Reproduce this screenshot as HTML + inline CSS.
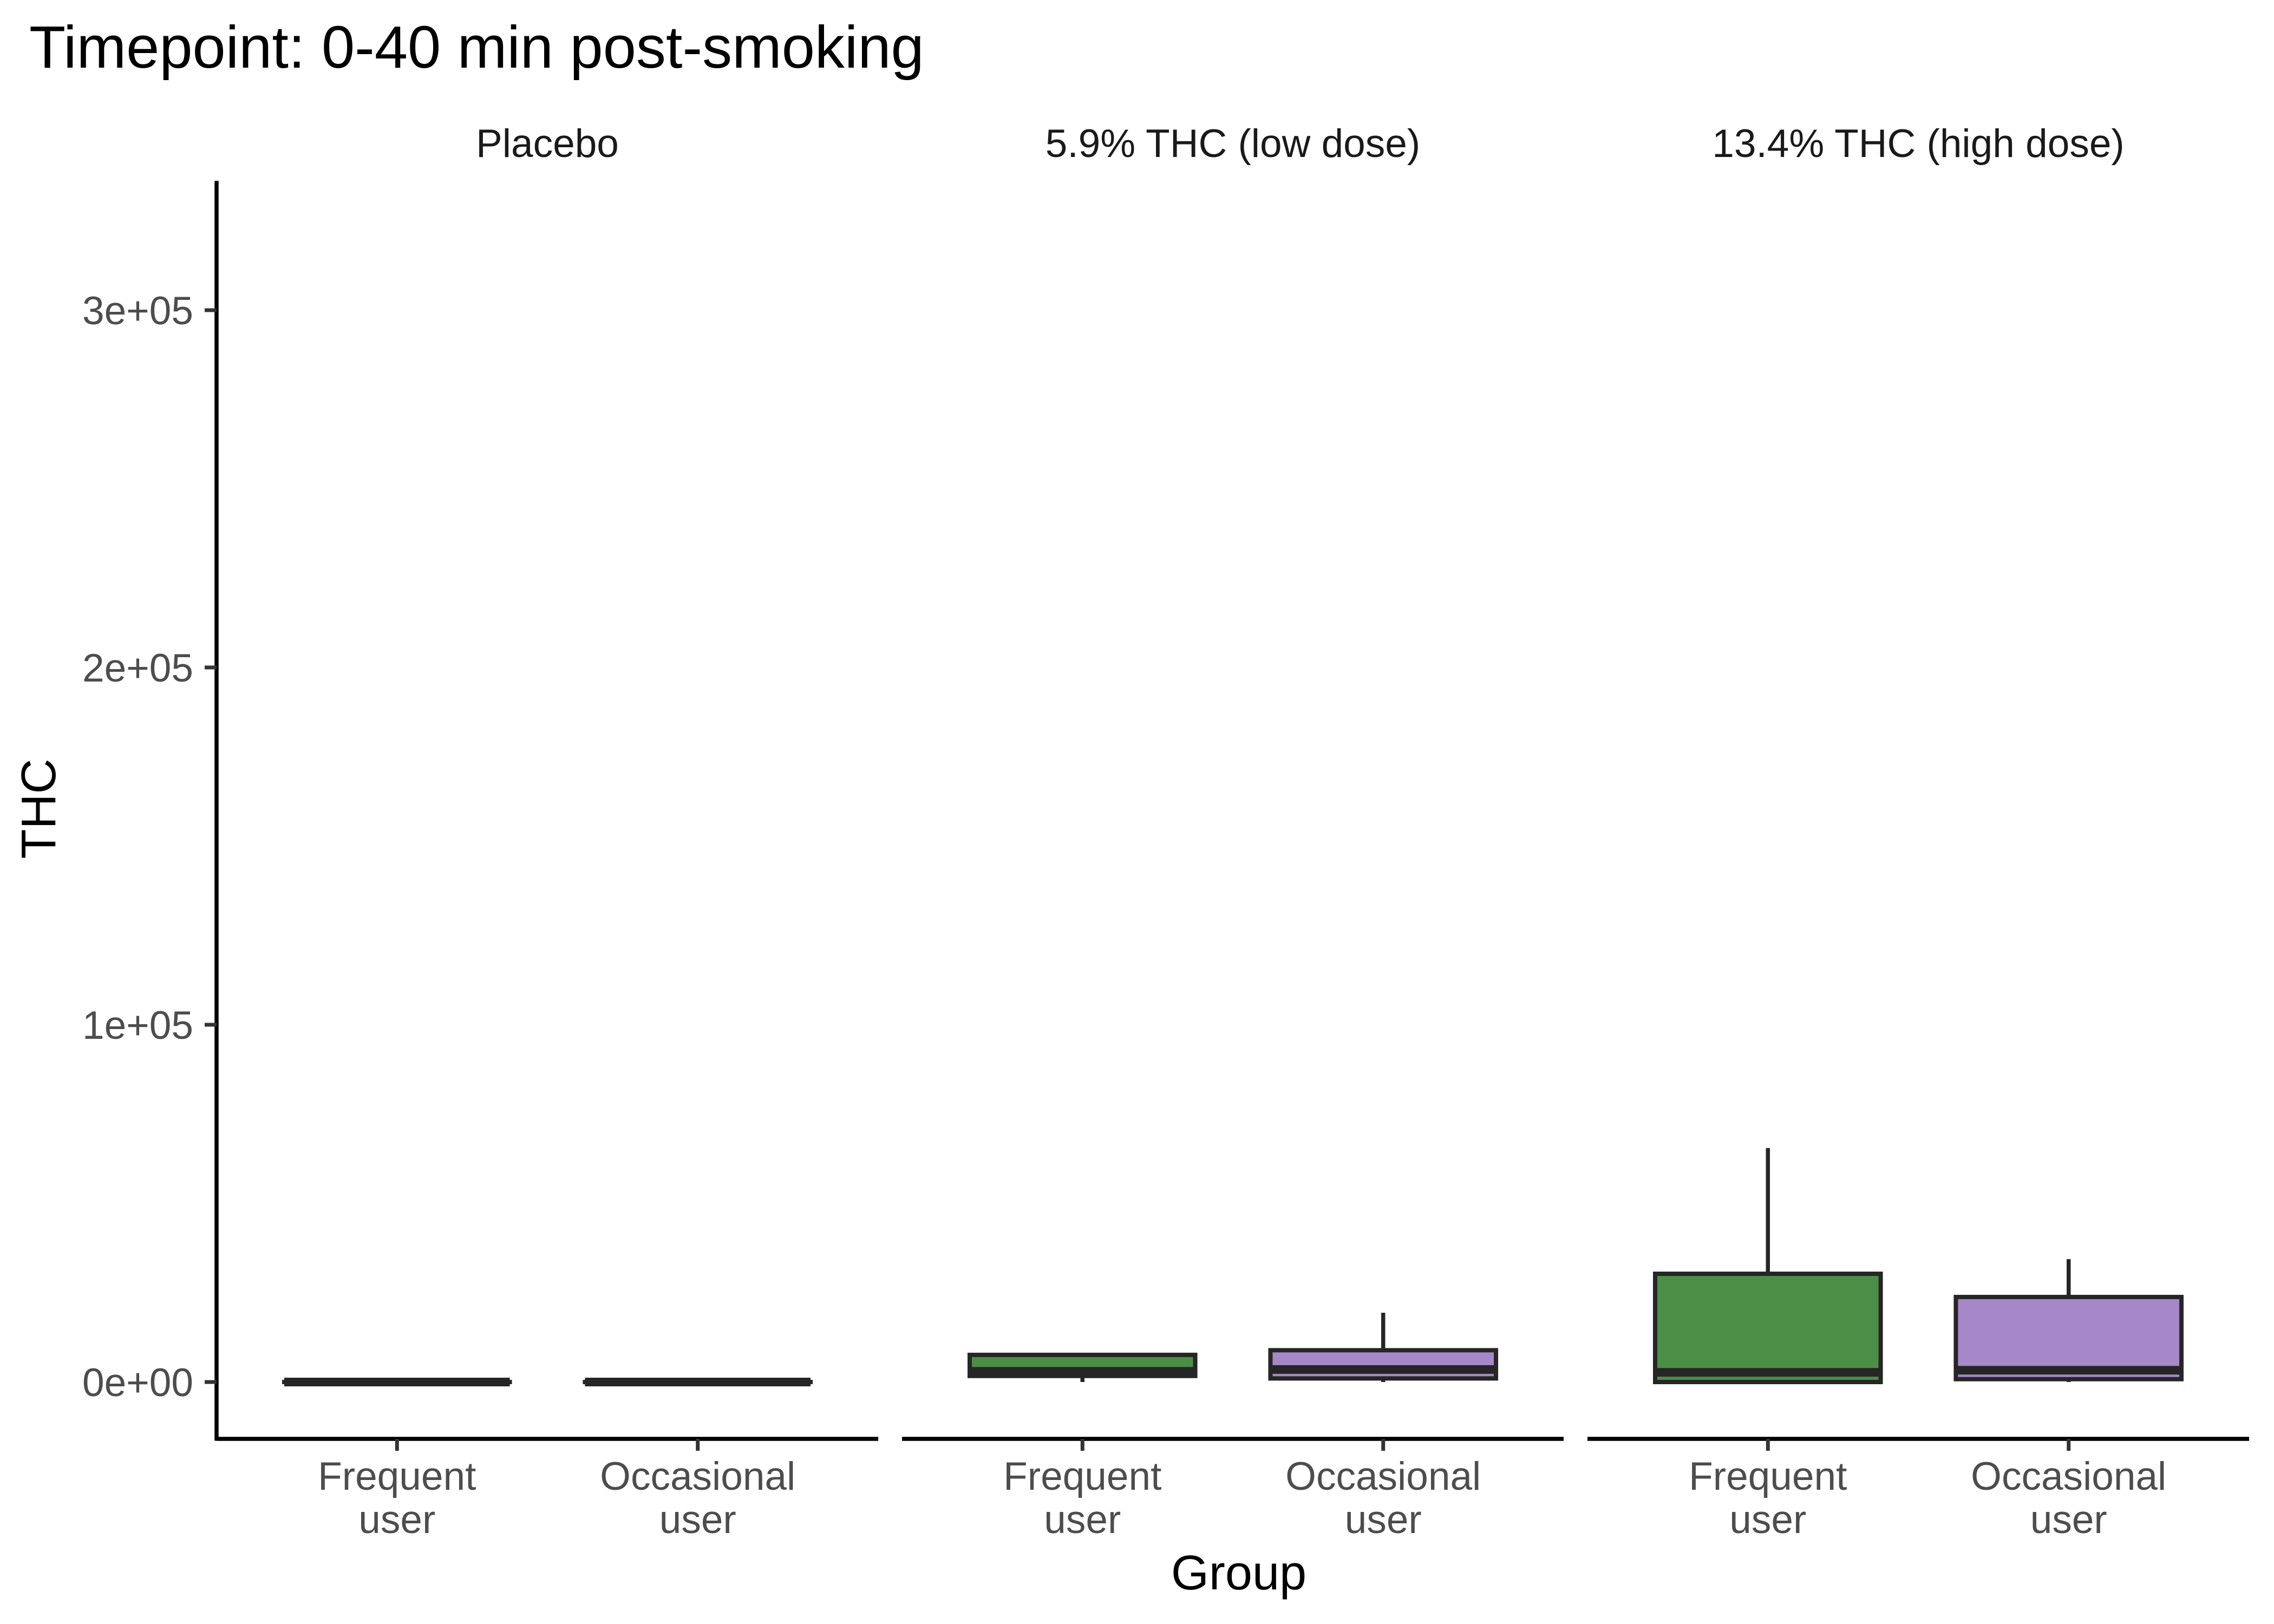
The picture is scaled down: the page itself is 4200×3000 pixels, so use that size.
<!DOCTYPE html>
<html><head><meta charset="utf-8"><style>
html,body{margin:0;padding:0;background:#fff;}
svg{display:block;font-family:"Liberation Sans",Arial,sans-serif;}
</style></head><body>
<svg id="chart" width="4200" height="3000" viewBox="0 0 4200 3000" xmlns="http://www.w3.org/2000/svg">
<rect width="4200" height="3000" fill="#ffffff"/>
<text x="54" y="125" font-size="110" fill="#000">Timepoint: 0-40 min post-smoking</text>
<text transform="translate(102,1494) rotate(-90)" text-anchor="middle" font-size="90" fill="#000">THC</text>
<text x="2288" y="2936" text-anchor="middle" font-size="90" fill="#000">Group</text>
<g id="plot"></g>
</svg>
<script>
const panels = ["Placebo", "5.9% THC (low dose)", "13.4% THC (high dose)"];
const groups = ["Frequent user", "Occasional user"];
const yTicks = [0, 100000, 200000, 300000];
const yTickLabels = ["0e+00", "1e+05", "2e+05", "3e+05"];
// per panel, per group: [min, q1, median, q3, max]
const placeboStats = [[0, 0, 0, 0, 0], [0, 0, 0, 0, 0]];
const lowStats = [[0, 1700, 3000, 7600, 7600], [0, 1000, 3500, 8900, 19400]];
const highStats = [[0, 0, 2700, 30300, 65500], [0, 800, 3300, 23800, 34400]];
const fills = ["#4a8f45", "#a688c8"];

const allStats = [placeboStats, lowStats, highStats];
const NS = "http://www.w3.org/2000/svg";
const g = document.getElementById("plot");
const y0px = 2553, pxPer = 660 / 100000;
const yScale = v => y0px - v * pxPer;
const panelLeft0 = 400, panelW = 1222, panelGap = 44;
const panelLeft = i => panelLeft0 + i * (panelW + panelGap);
const unit = panelW / 2.2;
const xScale = (p, k) => panelLeft(p) + (0.6 + k) * unit;
const axisTop = 334, axisBottom = 2658;

function el(tag, attrs, parent) {
  const e = document.createElementNS(NS, tag);
  for (const k in attrs) e.setAttribute(k, attrs[k]);
  (parent || g).appendChild(e);
  return e;
}

const yAxis = el("line", {x1: 400, x2: 400, y1: axisTop, y2: axisBottom + 3.5, stroke: "#000", "stroke-width": 7.5});


yTicks.forEach((v, i) => {
  const t = el("line", {x1: 378, x2: 400, y1: yScale(v), y2: yScale(v), stroke: "#333", "stroke-width": 7});
  
  
  const lab = el("text", {x: 357, y: yScale(v) + 26, "text-anchor": "end", "font-size": 73, fill: "#4d4d4d"});
  lab.textContent = yTickLabels[i];
  
  
});

panels.forEach((name, p) => {
  const L = panelLeft(p);
  const strip = el("text", {x: L + panelW / 2, y: 290, "text-anchor": "middle", "font-size": 73, fill: "#1a1a1a"});
  strip.textContent = name;
  
  
  const xa = el("line", {x1: L, x2: L + panelW, y1: axisBottom, y2: axisBottom, stroke: "#000", "stroke-width": 7.5});
  
  
  groups.forEach((grp, k) => {
    const cx = xScale(p, k);
    const tk = el("line", {x1: cx, x2: cx, y1: axisBottom, y2: axisBottom + 22, stroke: "#333", "stroke-width": 7});
    
    
    const parts = grp.split(" ");
    parts.forEach((w, j) => {
      const tl = el("text", {x: cx, y: 2752 + j * 80, "text-anchor": "middle", "font-size": 73, fill: "#4d4d4d"});
      tl.textContent = w;
      
      
    });
    const s = allStats[p][k];
    const bw = 0.75 * unit;
    const wh = el("line", {x1: cx, x2: cx, y1: yScale(s[4]), y2: yScale(s[0]), stroke: "#262626", "stroke-width": 7.5});
    
    
    const top = yScale(s[3]), bot = yScale(s[1]);
    const box = el("rect", {x: cx - bw / 2, y: top, width: bw, height: Math.max(bot - top, 0.01), fill: fills[k], stroke: "#262626", "stroke-width": 8});
    
    
    const md = el("line", {x1: cx - bw / 2, x2: cx + bw / 2, y1: yScale(s[2]), y2: yScale(s[2]), stroke: "#262626", "stroke-width": 16});
    
    
  });
});
</script>
</body></html>
